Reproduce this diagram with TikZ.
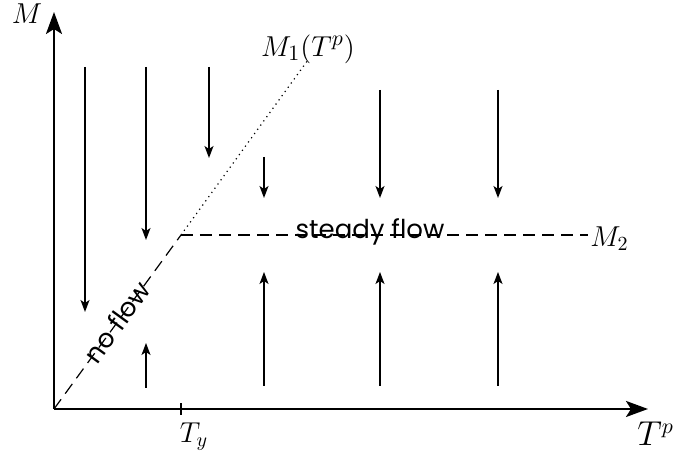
\documentclass[tikz,border=0pt]{standalone}
\usepackage{fontspec}
\newfontfamily\flowfont{Poppins}
\usetikzlibrary{arrows.meta,calc}

\begin{document}
\begin{tikzpicture}[x=0.5pt, y=0.5pt,
    axis/.style={line width=1.2pt, -{Stealth[length=11pt, width=8pt, inset=2.5pt]}},
    flowarrow/.style={line width=0.7pt, -{Stealth[length=6pt, width=4.5pt, inset=1.5pt]}},
    bound/.style={dash pattern=on 6pt off 3.5pt, line width=0.6pt},
    flowtext/.style={font=\flowfont\fontsize{13}{15}\selectfont}]
  \useasboundingbox (-54,-44) rectangle (622,409);

  \coordinate (O) at (0,0);
  \coordinate (Mtop) at (0,397);
  \coordinate (Tend) at (594,0);
  \coordinate (Ty) at (127,0);
  \coordinate (K) at (127,174);
  \coordinate (M1end) at (254,349);
  \coordinate (M2end) at (534,174);

  \draw[axis] (O) -- (Mtop);
  \draw[axis] (O) -- (Tend);
  % tick T_y
  \draw[line width=0.9pt] ($(Ty)+(0,-6)$) -- ($(Ty)+(0,6)$);

  % yield lines
  \draw[bound] (O) -- (K);
  \draw[dotted, line width=0.6pt] (K) -- (M1end);
  \draw[bound] (K) -- (M2end);

  % downward arrows
  \foreach \x/\a/\b [count=\i] in {31/342/97, 92/342/169, 155/342/251, 210/252/211, 326/319/211, 444/319/211} {
    \coordinate (dt\i) at (\x,\a);
    \coordinate (db\i) at (\x,\b);
    \draw[flowarrow] (dt\i) -- (db\i);
  }
  % upward arrows
  \foreach \x/\a/\b [count=\i] in {92/21/66, 210/23/137, 326/23/137, 444/23/137} {
    \coordinate (ub\i) at (\x,\a);
    \coordinate (ut\i) at (\x,\b);
    \draw[flowarrow] (ub\i) -- (ut\i);
  }

  \node[font=\fontsize{15}{17}\selectfont, inner sep=0pt] (lM) at ($(Mtop)+(-27,-2)$) {$M$};
  \node[above, font=\fontsize{15}{17}\selectfont, inner sep=0pt] (lM1) at ($(M1end)+(0,-4)$) {$M_1(T^p)$};
  \node[right, font=\fontsize{14}{16}\selectfont, inner sep=1pt] (lM2) at ($(M2end)+(0,-4)$) {$M_2$};
  \node[below, font=\fontsize{14}{16}\selectfont, inner sep=0pt] (lTy) at ($(Ty)+(13,-13)$) {$T_y$};
  \node[right, font=\fontsize{16}{18}\selectfont, inner sep=0pt] (lTp) at ($(Tend)+(-11,-25)$) {$T^p$};

  \node[flowtext] (steady) at (316,177) {steady flow};
  \node[flowtext, rotate=54] (noflow) at (63,87) {no flow};
\end{tikzpicture}
\end{document}
